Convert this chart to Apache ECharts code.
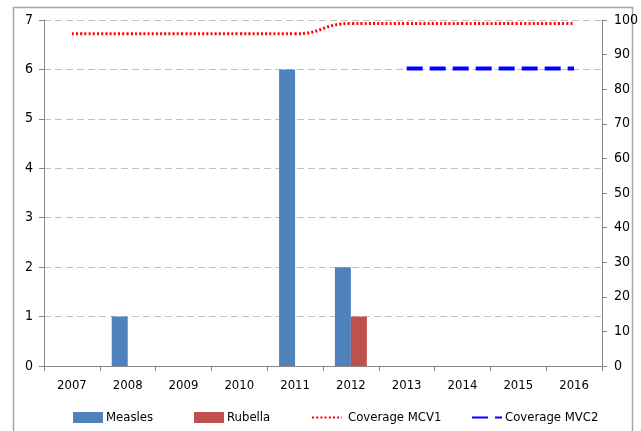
<!DOCTYPE html>
<html>
<head>
<meta charset="utf-8">
<script src="https://cdn.jsdelivr.net/npm/echarts@6/dist/echarts.min.js"></script>
<style>
html,body{margin:0;padding:0;background:#fff;}
#c{width:641px;height:431px;}
</style>
</head>
<body>
<div id="c"></div>
<script>
const years = ['2007','2008','2009','2010','2011','2012','2013','2014','2015','2016'];
const measles = [0, 1, 0, 0, 6, 2, 0, 0, 0, 0];
const rubella = [0, 0, 0, 0, 0, 1, 0, 0, 0, 0];
const coverageMCV1 = [96, 96, 96, 96, 96, 99, 99, 99, 99, 99];
const coverageMVC2 = [null, null, null, null, null, null, 86, 86, 86, 86];
const leftTicks = { min: 0, max: 7, interval: 1 };
const rightTicks = { min: 0, max: 100, interval: 10 };

const FONT = "'DejaVu Sans Condensed', 'Liberation Sans Narrow', sans-serif";
const axisGray = '#868686';

const chart = echarts.init(document.getElementById('c'), null, { renderer: 'canvas' });

function legendAt(name, left, textPad, isLine) {
  const lg = {
    data: [isLine ? { name: name } : { name: name, icon: 'rect' }],
    left: left,
    top: 411,
    itemWidth: 30,
    itemHeight: 11,
    padding: 0,
    textStyle: { fontFamily: FONT, fontSize: 13, color: '#000', padding: [0, 0, 0, textPad] },
    selectedMode: false
  };
  if (isLine) {
    lg.itemStyle = { opacity: 0, color: 'rgba(0,0,0,0)', borderWidth: 0 };
  }
  return lg;
}

chart.setOption({
  animation: false,
  backgroundColor: '#fff',
  textStyle: { fontFamily: FONT },
  graphic: [{
    type: 'rect',
    shape: { x: 13.5, y: 7.5, width: 619, height: 440 },
    style: { fill: null, stroke: '#A6A6A6', lineWidth: 1.5 },
    silent: true,
    z: -10
  }],
  grid: { left: 44, right: 39, top: 20, bottom: 65, containLabel: false },
  legend: [
    legendAt('Measles', 73, -2, false),
    legendAt('Rubella', 194, -2, false),
    legendAt('Coverage MCV1', 311, 1, true),
    legendAt('Coverage MVC2', 471, -2, true)
  ],
  xAxis: {
    type: 'category',
    data: years,
    boundaryGap: true,
    axisLine: { show: true, lineStyle: { color: axisGray, width: 1 } },
    axisTick: { show: true, alignWithLabel: false, length: 5, lineStyle: { color: axisGray } },
    axisLabel: { fontFamily: FONT, fontSize: 13, color: '#000', margin: 13 },
    splitLine: { show: false }
  },
  yAxis: [{
    type: 'value',
    min: leftTicks.min, max: leftTicks.max, interval: leftTicks.interval,
    position: 'left',
    axisLine: { show: true, lineStyle: { color: axisGray, width: 1 } },
    axisTick: { show: true, length: 5, lineStyle: { color: axisGray } },
    axisLabel: { fontFamily: FONT, fontSize: 14, color: '#000', margin: 11 },
    splitLine: { show: true, lineStyle: { color: '#C0C0C0', type: [7, 4], width: 1 } }
  }, {
    type: 'value',
    min: rightTicks.min, max: rightTicks.max, interval: rightTicks.interval,
    position: 'right',
    axisLine: { show: true, lineStyle: { color: axisGray, width: 1 } },
    axisTick: { show: true, length: 5, lineStyle: { color: axisGray } },
    axisLabel: { fontFamily: FONT, fontSize: 14, color: '#000', margin: 12 },
    splitLine: { show: false }
  }],
  series: [{
    name: 'Measles',
    type: 'bar',
    data: measles,
    barWidth: 16,
    barGap: '0%',
    itemStyle: { color: '#4F81BD' }
  }, {
    name: 'Rubella',
    type: 'bar',
    data: rubella,
    barWidth: 16,
    barGap: '0%',
    itemStyle: { color: '#C0504D' }
  }, {
    name: 'Coverage MCV1',
    type: 'line',
    yAxisIndex: 1,
    data: coverageMCV1,
    symbol: 'none',
    smooth: 0.5,
    lineStyle: { color: '#FF0000', width: 3, type: [2, 2.2] },
    itemStyle: { color: '#FF0000' },
    z: 5
  }, {
    name: 'Coverage MVC2',
    type: 'line',
    yAxisIndex: 1,
    data: coverageMVC2,
    symbol: 'none',
    lineStyle: { color: '#0000FF', width: 4, type: [16, 7] },
    itemStyle: { color: '#0000FF' },
    z: 5
  }]
});
</script>
</body>
</html>
